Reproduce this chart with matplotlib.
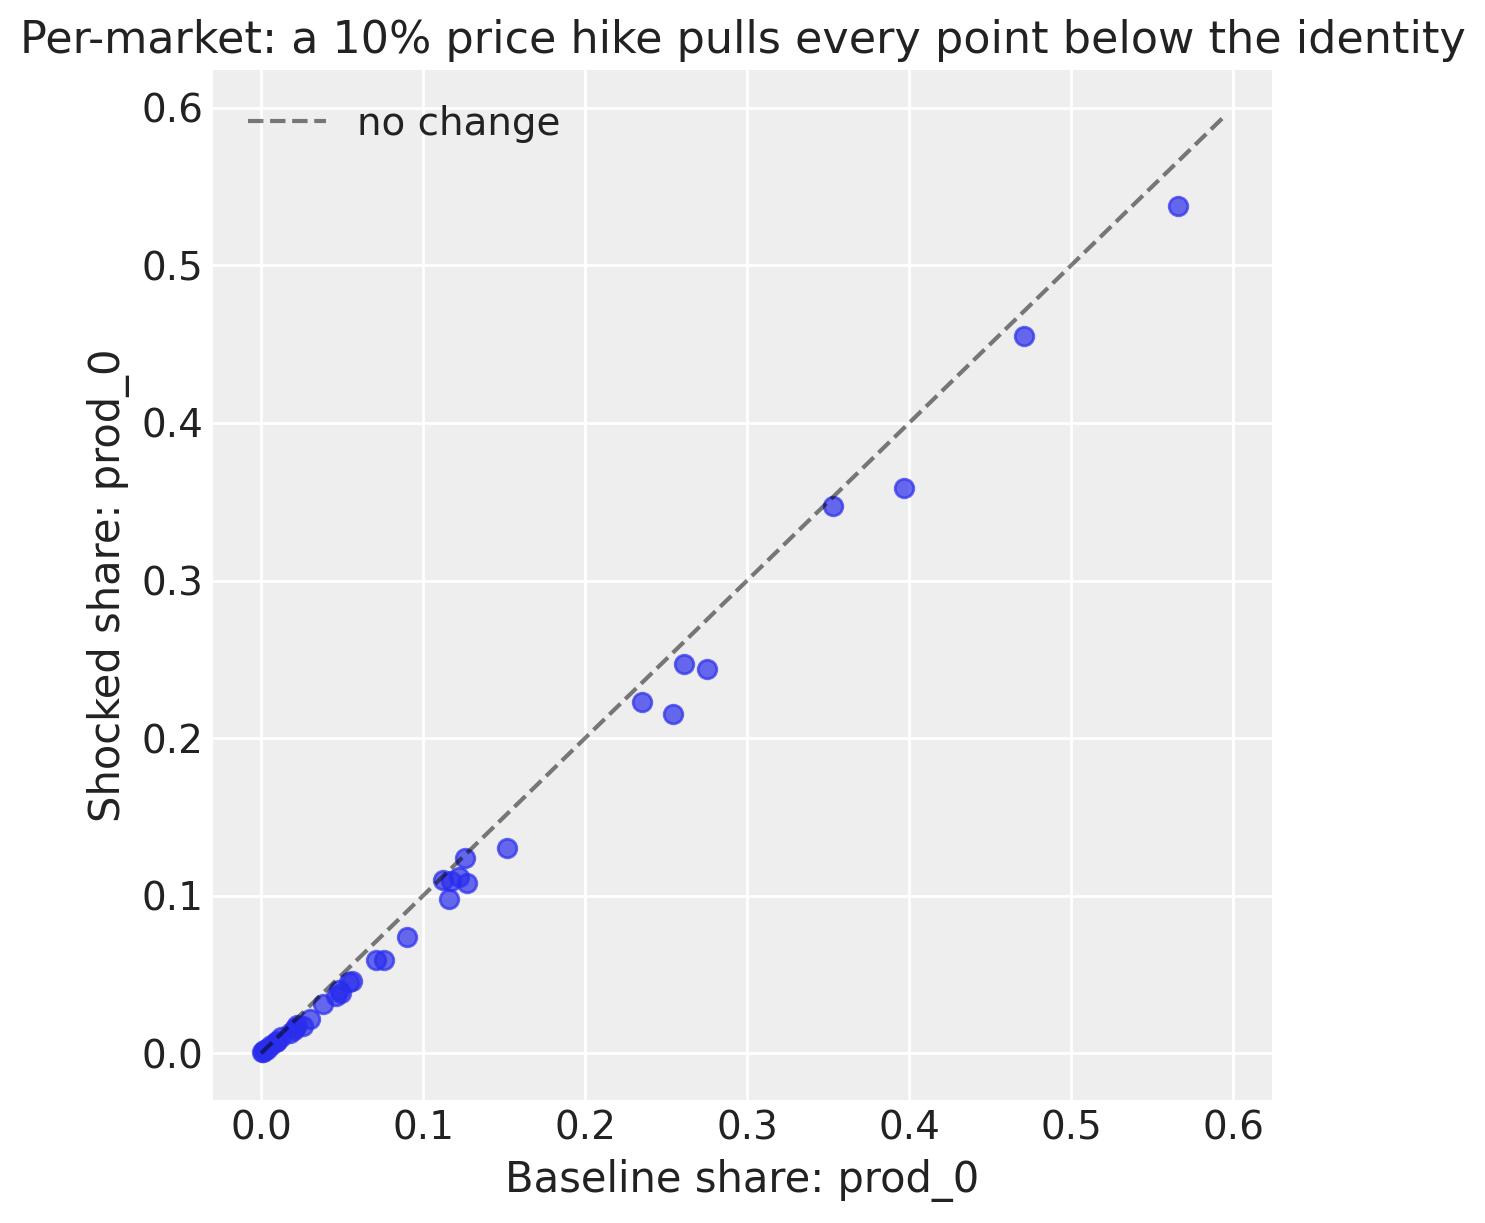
"""Per-market share shift under a price shock"""

import matplotlib
matplotlib.use("Agg")
import matplotlib.pyplot as plt

# arviz-darkgrid look, written out by hand
plt.rcParams.update({
    "axes.facecolor": "#eeeeee",
    "axes.edgecolor": "white",
    "axes.grid": True,
    "grid.color": "white",
    "grid.linewidth": 1.0,
    "axes.axisbelow": True,
    "axes.spines.left": False,
    "axes.spines.right": False,
    "axes.spines.top": False,
    "axes.spines.bottom": False,
    "xtick.major.size": 0,
    "ytick.major.size": 0,
    "text.color": "#222222",
    "axes.labelcolor": "#222222",
    "xtick.color": "#222222",
    "ytick.color": "#222222",
    "font.family": ["DejaVu Sans"],
})

# baseline vs shocked share of prod_0, one point per market
baseline = [0.566, 0.471, 0.397, 0.353, 0.261, 0.275, 0.235, 0.254, 0.152, 0.126,
            0.112, 0.122, 0.117, 0.127, 0.116, 0.090, 0.071, 0.076, 0.056, 0.054,
            0.048, 0.046, 0.049, 0.038, 0.030, 0.026, 0.020, 0.018, 0.021, 0.010,
            0.009, 0.006, 0.004, 0.002, 0.001, 0.0005, 0.003, 0.012, 0.022]
shocked = [0.538, 0.455, 0.359, 0.347, 0.247, 0.244, 0.223, 0.215, 0.130, 0.124,
           0.110, 0.112, 0.109, 0.108, 0.098, 0.074, 0.059, 0.059, 0.046, 0.045,
           0.040, 0.036, 0.038, 0.031, 0.022, 0.017, 0.015, 0.013, 0.016, 0.008,
           0.007, 0.005, 0.003, 0.002, 0.001, 0.0005, 0.002, 0.010, 0.018]

fig = plt.figure(figsize=(7.425, 6.115), dpi=200)
ax = fig.add_axes([213 / 1485, 1 - 1100 / 1223, 1059 / 1485, 1030 / 1223])

ax.scatter(baseline, shocked, s=45, color="#2a2eec", alpha=0.7,
           edgecolors="#2a2eec", linewidths=1.0, zorder=3)

top = max(max(baseline), max(shocked)) * 1.05
ax.plot([0, top], [0, top], ls="--", color="k", alpha=0.5, lw=1.5,
        label="no change", zorder=4)

ax.set_xticks([0.0, 0.1, 0.2, 0.3, 0.4, 0.5, 0.6])
ax.set_yticks([0.0, 0.1, 0.2, 0.3, 0.4, 0.5, 0.6])
ax.tick_params(labelsize=14)
ax.set_xlabel("Baseline share: prod_0", fontsize=15)
ax.set_ylabel("Shocked share: prod_0", fontsize=15)
ax.set_title("Per-market: a 10% price hike pulls every point below the identity",
             fontsize=16)
ax.legend(loc="upper left", frameon=False, fontsize=14)

fig.savefig("out.png")
